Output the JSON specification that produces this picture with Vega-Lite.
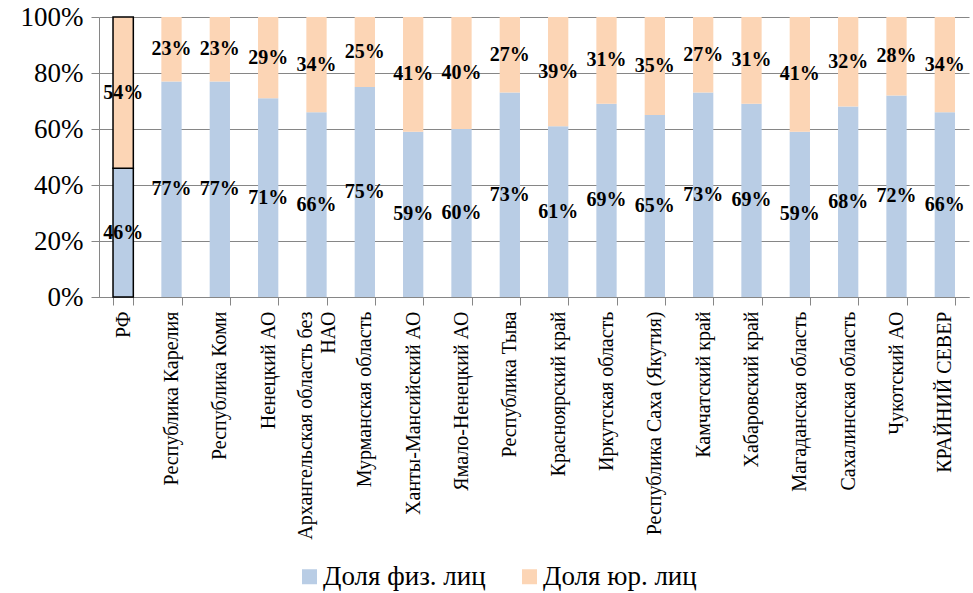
{
  "$schema": "https://vega.github.io/schema/vega-lite/v6.json",
  "width": 870,
  "height": 280,
  "autosize": {"type": "none"},
  "padding": {"left": 99, "top": 17, "right": 4, "bottom": 296},
  "background": "white",
  "config": {
    "view": {"stroke": null}
  },
  "data": {
    "values": [
      {"region": "РФ", "series": "Доля физ. лиц", "value": 0.46},
      {"region": "РФ", "series": "Доля юр. лиц", "value": 0.54},
      {"region": "Республика Карелия", "series": "Доля физ. лиц", "value": 0.77},
      {"region": "Республика Карелия", "series": "Доля юр. лиц", "value": 0.23},
      {"region": "Республика Коми", "series": "Доля физ. лиц", "value": 0.77},
      {"region": "Республика Коми", "series": "Доля юр. лиц", "value": 0.23},
      {"region": "Ненецкий  АО", "series": "Доля физ. лиц", "value": 0.71},
      {"region": "Ненецкий  АО", "series": "Доля юр. лиц", "value": 0.29},
      {"region": "Архангельская область без НАО", "series": "Доля физ. лиц", "value": 0.66},
      {"region": "Архангельская область без НАО", "series": "Доля юр. лиц", "value": 0.34},
      {"region": "Мурманская область", "series": "Доля физ. лиц", "value": 0.75},
      {"region": "Мурманская область", "series": "Доля юр. лиц", "value": 0.25},
      {"region": "Ханты-Мансийский  АО", "series": "Доля физ. лиц", "value": 0.59},
      {"region": "Ханты-Мансийский  АО", "series": "Доля юр. лиц", "value": 0.41},
      {"region": "Ямало-Ненецкий АО", "series": "Доля физ. лиц", "value": 0.60},
      {"region": "Ямало-Ненецкий АО", "series": "Доля юр. лиц", "value": 0.40},
      {"region": "Республика Тыва", "series": "Доля физ. лиц", "value": 0.73},
      {"region": "Республика Тыва", "series": "Доля юр. лиц", "value": 0.27},
      {"region": "Красноярский край", "series": "Доля физ. лиц", "value": 0.61},
      {"region": "Красноярский край", "series": "Доля юр. лиц", "value": 0.39},
      {"region": "Иркутская область", "series": "Доля физ. лиц", "value": 0.69},
      {"region": "Иркутская область", "series": "Доля юр. лиц", "value": 0.31},
      {"region": "Республика Саха (Якутия)", "series": "Доля физ. лиц", "value": 0.65},
      {"region": "Республика Саха (Якутия)", "series": "Доля юр. лиц", "value": 0.35},
      {"region": "Камчатский край", "series": "Доля физ. лиц", "value": 0.73},
      {"region": "Камчатский край", "series": "Доля юр. лиц", "value": 0.27},
      {"region": "Хабаровский край", "series": "Доля физ. лиц", "value": 0.69},
      {"region": "Хабаровский край", "series": "Доля юр. лиц", "value": 0.31},
      {"region": "Магаданская область", "series": "Доля физ. лиц", "value": 0.59},
      {"region": "Магаданская область", "series": "Доля юр. лиц", "value": 0.41},
      {"region": "Сахалинская область", "series": "Доля физ. лиц", "value": 0.68},
      {"region": "Сахалинская область", "series": "Доля юр. лиц", "value": 0.32},
      {"region": "Чукотский  АО", "series": "Доля физ. лиц", "value": 0.72},
      {"region": "Чукотский  АО", "series": "Доля юр. лиц", "value": 0.28},
      {"region": "КРАЙНИЙ СЕВЕР", "series": "Доля физ. лиц", "value": 0.66},
      {"region": "КРАЙНИЙ СЕВЕР", "series": "Доля юр. лиц", "value": 0.34}
    ]
  },
  "encoding": {
    "x": {
      "field": "region",
      "type": "nominal",
      "sort": null,
      "scale": {"paddingInner": 0.58, "paddingOuter": 0.29},
      "axis": {
        "title": null,
        "labelAngle": -90,
        "labelFont": "Liberation Serif",
        "labelFontSize": 20,
        "labelColor": "#000000",
        "labelLimit": 400,
        "labelPadding": 6,
        "labelLineHeight": 23,
        "labelOffset": {"condition": {"test": "datum.value == 'Архангельская область без НАО'", "value": -11}, "value": 0},
        "labelExpr": "datum.value == 'Архангельская область без НАО' ? ['Архангельская область без', 'НАО'] : datum.value",
        "tickBand": "extent",
        "tickSize": 8,
        "tickColor": "#868686",
        "domainColor": "#868686",
        "domainWidth": 1,
        "grid": false
      }
    }
  },
  "layer": [
    {
      "mark": {"type": "bar"},
      "encoding": {
        "y": {
          "field": "value",
          "type": "quantitative",
          "stack": "zero",
          "scale": {"domain": [0, 1]},
          "axis": {
            "title": null,
            "values": [0, 0.2, 0.4, 0.6, 0.8, 1],
            "format": ".0%",
            "labelFont": "Liberation Serif",
            "labelFontSize": 27,
            "labelColor": "#000000",
            "labelPadding": 8,
            "tickSize": 8,
            "tickColor": "#868686",
            "domainColor": "#868686",
            "gridColor": "#868686",
            "gridWidth": 1
          }
        },
        "order": {"field": "series", "sort": "ascending"},
        "color": {
          "field": "series",
          "type": "nominal",
          "scale": {"domain": ["Доля физ. лиц", "Доля юр. лиц"], "range": ["#b9cde5", "#fcd5b5"]},
          "legend": {
            "title": null,
            "orient": "none",
            "direction": "horizontal",
            "legendX": 197,
            "legendY": 546,
            "padding": 0,
            "symbolType": "square",
            "symbolSize": 225,
            "symbolStrokeWidth": 0,
            "labelFont": "Liberation Serif",
            "labelFontSize": 27,
            "labelColor": "#000000",
            "labelOffset": 0,
            "columnPadding": 30,
            "labelLimit": 300
          }
        },
        "stroke": {"value": "#000000"},
        "strokeWidth": {"condition": {"test": "datum.region === 'РФ'", "value": 1.5}, "value": 0}
      }
    },
    {
      "transform": [
        {"stack": "value", "groupby": ["region"], "sort": [{"field": "series", "order": "ascending"}], "as": ["v0", "v1"]},
        {"calculate": "(datum.v0 + datum.v1) / 2", "as": "mid"}
      ],
      "mark": {"type": "text", "font": "Liberation Serif", "fontSize": 20, "fontWeight": "bold", "color": "#000000"},
      "encoding": {
        "y": {"field": "mid", "type": "quantitative", "scale": {"domain": [0, 1]}},
        "text": {"field": "value", "type": "quantitative", "format": ".0%"}
      }
    }
  ]
}
